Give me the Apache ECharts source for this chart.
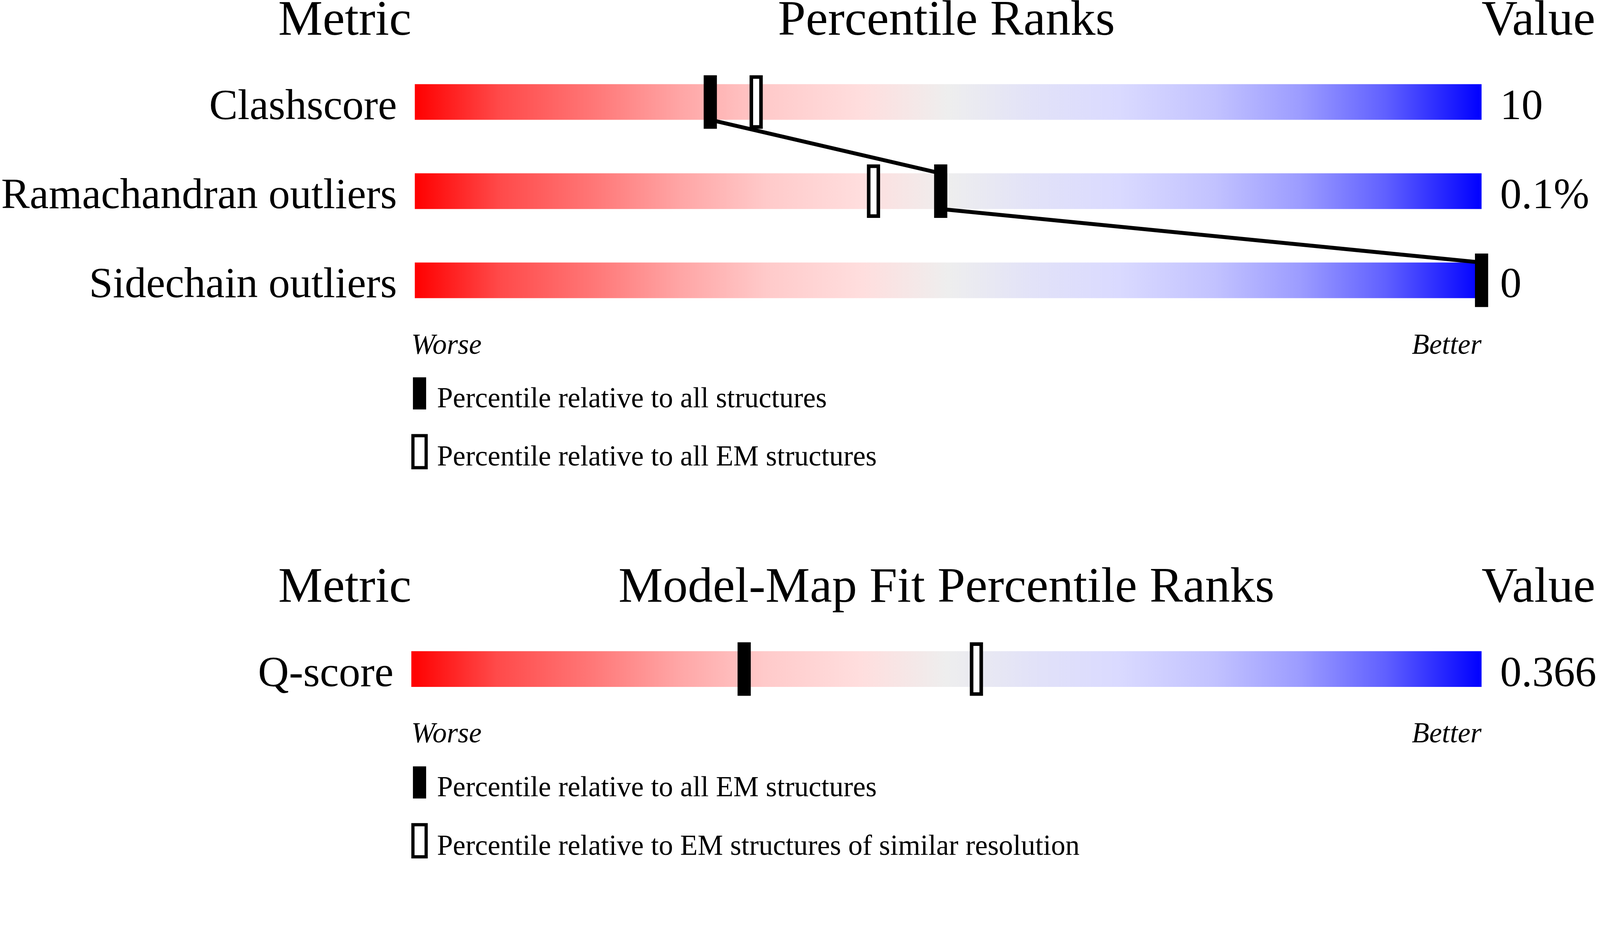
<!DOCTYPE html>
<html>
<head>
<meta charset="utf-8">
<title>Percentile Ranks</title>
<script src="https://cdn.jsdelivr.net/npm/echarts@6/dist/echarts.min.js"></script>
<style>
    html, body { margin: 0; padding: 0; background: #fff; overflow: hidden; }
    .chart { width: 100vw; height: 100vh; }
</style>
</head>
<body>
<div class="chart"></div>
<script>
// data
var metrics = ['Clashscore', 'Ramachandran outliers', 'Sidechain outliers'];
var metricValues = ['10', '0.1%', '0'];
var pctAll = [27.7, 49.3, 100];      // filled marker
var pctAllEM = [32, 43, null];       // hollow marker
var fitMetrics = ['Q-score'];
var fitValues = ['0.366'];
var fitPctAllEM = [31.1];            // filled marker
var fitPctSimilar = [52.8];          // hollow marker

(function () {
    var myChart = echarts.init(document.querySelector('.chart'));
    var serif = "'Liberation Serif', 'Times New Roman', serif";

    // layout is worked out on a 4485 wide page, then scaled to the real size
    var k = myChart.getWidth() / 4485;
    function px(v) { return v * k; }

    // track colour: red -> grey -> blue
    var track = new echarts.graphic.LinearGradient(0, 0, 1, 0, [
        { offset: 0, color: '#ff0000' },
        { offset: 0.08, color: '#ff4a4a' },
        { offset: 0.17, color: '#ff7878' },
        { offset: 0.25, color: '#ffa6a6' },
        { offset: 0.33, color: '#ffcaca' },
        { offset: 0.42, color: '#ffdede' },
        { offset: 0.5, color: '#eeeeee' },
        { offset: 0.58, color: '#e2e2f8' },
        { offset: 0.66, color: '#dadaff' },
        { offset: 0.75, color: '#c2c2ff' },
        { offset: 0.83, color: '#9c9cff' },
        { offset: 0.91, color: '#6060ff' },
        { offset: 1, color: '#0000ff' }
    ]);

    var barH = px(100), markW = px(37), markH = px(150), edge = px(10);

    function pairs(arr) {
        var out = [];
        arr.forEach(function (v, i) {
            if (v !== null) out.push([v, i]);
        });
        return out;
    }

    function solidMark(params, api) {
        var p = api.coord([api.value(0), api.value(1)]);
        return {
            type: 'rect',
            shape: { x: p[0] - markW / 2, y: p[1] - markH / 2, width: markW, height: markH },
            style: { fill: '#000' }
        };
    }

    function hollowMark(params, api) {
        var p = api.coord([api.value(0), api.value(1)]);
        return {
            type: 'rect',
            shape: { x: p[0] - markW / 2 + edge / 2, y: p[1] - markH / 2 + edge / 2, width: markW - edge, height: markH - edge },
            style: { fill: '#fff', stroke: '#000', lineWidth: edge }
        };
    }

    // link between filled markers, bottom of one track to top of the next
    function linkItem(params, api) {
        var i = params.dataIndex;
        if (i === 0) return;
        var a = api.coord([pctAll[i - 1], i - 1]);
        var b = api.coord([api.value(0), api.value(1)]);
        return {
            type: 'line',
            shape: { x1: a[0], y1: a[1] + barH / 2, x2: b[0], y2: b[1] - barH / 2 },
            style: { stroke: '#000', lineWidth: px(11) }
        };
    }

    function catAxis(grid, data, pos, margin) {
        return {
            gridIndex: grid,
            type: 'category',
            inverse: true,
            position: pos,
            data: data,
            axisLine: { show: false },
            axisTick: { show: false },
            splitLine: { show: false },
            axisLabel: {
                color: '#000',
                fontFamily: serif,
                fontSize: px(120),
                margin: px(margin),
                // sit the text a little low, baseline near the track bottom
                verticalAlign: 'top',
                lineHeight: px(32)
            }
        };
    }

    function headText(x, y, text, align) {
        return {
            type: 'text', x: px(x), y: px(y), silent: true,
            style: { text: text, fill: '#000', font: px(140) + 'px ' + serif, textAlign: align, textVerticalAlign: 'middle' }
        };
    }

    function noteText(x, y, text, align) {
        return {
            type: 'text', x: px(x), y: px(y), silent: true,
            style: { text: text, fill: '#000', font: 'italic ' + px(80) + 'px ' + serif, textAlign: align, textVerticalAlign: 'middle' }
        };
    }

    function legendBlock(top, names) {
        return {
            orient: 'vertical',
            left: px(1153),
            top: px(top),
            padding: 0,
            itemWidth: markW,
            itemHeight: px(90),
            itemGap: px(56),
            selectedMode: false,
            formatter: '{t|{name}}',
            textStyle: {
                rich: {
                    t: { color: '#000', fontFamily: serif, fontSize: px(80), padding: [px(36), 0, 0, px(25)] }
                }
            },
            data: [
                { name: names[0], icon: 'rect', itemStyle: { color: '#000', borderWidth: 0 } },
                { name: names[1], icon: 'rect', itemStyle: { color: '#fff', borderColor: '#000', borderWidth: px(9) } }
            ]
        };
    }

    var option = {
        animation: false,
        backgroundColor: '#fff',
        grid: [
            { left: px(1153), width: px(3000), top: px(161), height: px(750) },
            { left: px(1153), width: px(3000), top: px(1751), height: px(250) }
        ],
        xAxis: [
            { gridIndex: 0, type: 'value', min: 0, max: 100, show: false },
            { gridIndex: 1, type: 'value', min: 0, max: 100, show: false }
        ],
        yAxis: [
            catAxis(0, metrics, 'left', 50),
            catAxis(0, metricValues, 'right', 52),
            catAxis(1, fitMetrics, 'left', 50),
            catAxis(1, fitValues, 'right', 52)
        ],
        legend: [
            legendBlock(1058, ['Percentile relative to all structures', 'Percentile relative to all EM structures']),
            legendBlock(2149, ['Percentile relative to all EM structures', 'Percentile relative to EM structures of similar resolution'])
        ],
        graphic: [
            headText(1153, 61, 'Metric', 'right'),
            headText(2653, 61, 'Percentile Ranks', 'center'),
            headText(4153, 61, 'Value', 'left'),
            headText(1153, 1651, 'Metric', 'right'),
            headText(2653, 1651, 'Model-Map Fit Percentile Ranks', 'center'),
            headText(4153, 1651, 'Value', 'left'),
            noteText(1153, 971, 'Worse', 'left'),
            noteText(4153, 971, 'Better', 'right'),
            noteText(1153, 2061, 'Worse', 'left'),
            noteText(4153, 2061, 'Better', 'right')
        ],
        series: [
            {
                name: 'track',
                type: 'bar',
                xAxisIndex: 0, yAxisIndex: 0,
                barWidth: barH,
                silent: true,
                z: 1,
                itemStyle: { color: track },
                data: metrics.map(function () { return 100; })
            },
            {
                name: 'track2',
                type: 'bar',
                xAxisIndex: 1, yAxisIndex: 2,
                barWidth: barH,
                silent: true,
                z: 1,
                itemStyle: { color: track },
                data: fitMetrics.map(function () { return 100; })
            },
            {
                name: 'link',
                type: 'custom',
                xAxisIndex: 0, yAxisIndex: 0,
                clip: false,
                z: 2,
                renderItem: linkItem,
                data: pairs(pctAll)
            },
            {
                name: 'Percentile relative to all EM structures',
                type: 'custom',
                xAxisIndex: 0, yAxisIndex: 0,
                clip: false,
                z: 3,
                renderItem: hollowMark,
                data: pairs(pctAllEM)
            },
            {
                name: 'Percentile relative to all structures',
                type: 'custom',
                xAxisIndex: 0, yAxisIndex: 0,
                clip: false,
                z: 4,
                renderItem: solidMark,
                data: pairs(pctAll)
            },
            {
                name: 'Percentile relative to EM structures of similar resolution',
                type: 'custom',
                xAxisIndex: 1, yAxisIndex: 2,
                clip: false,
                z: 3,
                renderItem: hollowMark,
                data: pairs(fitPctSimilar)
            },
            {
                name: 'Percentile relative to all EM structures',
                type: 'custom',
                xAxisIndex: 1, yAxisIndex: 2,
                clip: false,
                z: 4,
                renderItem: solidMark,
                data: pairs(fitPctAllEM)
            }
        ]
    };
    myChart.setOption(option);
    window.addEventListener('resize', function () {
        myChart.resize();
    });
})();
</script>
</body>
</html>
